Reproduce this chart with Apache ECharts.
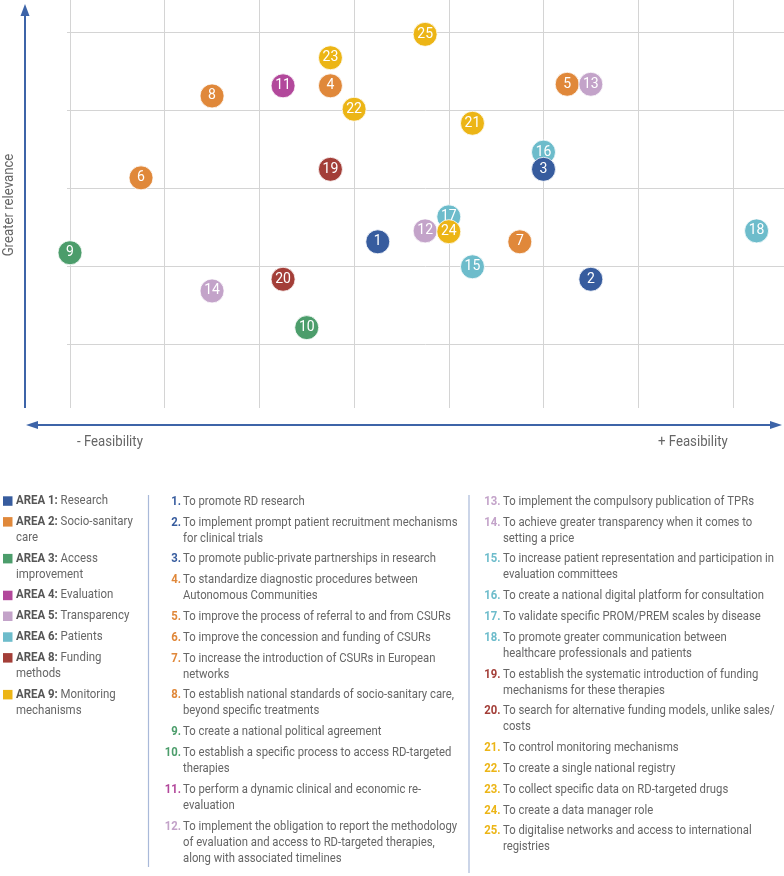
<!DOCTYPE html>
<html>
<head>
<meta charset="utf-8">
<script src="https://cdn.jsdelivr.net/npm/echarts@6/dist/echarts.min.js"></script>
<style>
html,body{margin:0;padding:0;background:#fff;}
#chart{width:784px;height:876px;}
</style>
</head>
<body>
<div id="chart"></div>
<script>
// ---- data ----
const areaNames = ['AREA 1:', 'AREA 2:', 'AREA 3:', 'AREA 4:', 'AREA 5:', 'AREA 6:', 'AREA 8:', 'AREA 9:'];
const areaLabels = ['Research', 'Socio-sanitary\ncare', 'Access\nimprovement', 'Evaluation', 'Transparency', 'Patients', 'Funding\nmethods', 'Monitoring\nmechanisms'];
const areaMeasures = [[1, 2, 3], [4, 5, 6, 7, 8], [9, 10], [11], [12, 13, 14], [15, 16, 17, 18], [19, 20], [21, 22, 23, 24, 25]];
// feasibility (x) and relevance (y) per measure 1..25
const feasibility = [3.25, 5.5, 5.0, 2.75, 5.25, 0.75, 4.75, 1.5, 0.0, 2.5, 2.25, 3.75, 5.5, 1.5, 4.25, 5.0, 4.0, 7.25, 2.75, 2.25, 4.25, 3.0, 2.75, 4.0, 3.75];
const relevance   = [1.31, 0.83, 2.24, 3.31, 3.33, 2.13, 1.31, 3.18, 1.17, 0.21, 3.31, 1.45, 3.33, 0.68, 0.99, 2.46, 1.63, 1.45, 2.24, 0.83, 2.83, 3.01, 3.67, 1.44, 3.97];
const measureTexts = [
  'To promote RD research',
  'To implement prompt patient recruitment mechanisms\nfor clinical trials',
  'To promote public-private partnerships in research',
  'To standardize diagnostic procedures between\nAutonomous Communities',
  'To improve the process of referral to and from CSURs',
  'To improve the concession and funding of CSURs',
  'To increase the introduction of CSURs in European\nnetworks',
  'To establish national standards of socio-sanitary care,\nbeyond specific treatments',
  'To create a national political agreement',
  'To establish a specific process to access RD-targeted\ntherapies',
  'To perform a dynamic clinical and economic re-\nevaluation',
  'To implement the obligation to report the methodology\nof evaluation and access to RD-targeted therapies,\nalong with associated timelines',
  'To implement the compulsory publication of TPRs',
  'To achieve greater transparency when it comes to\nsetting a price',
  'To increase patient representation and participation in\nevaluation committees',
  'To create a national digital platform for consultation',
  'To validate specific PROM/PREM scales by disease',
  'To promote greater communication between\nhealthcare professionals and patients',
  'To establish the systematic introduction of funding\nmechanisms for these therapies',
  'To search for alternative funding models, unlike sales/\ncosts',
  'To control monitoring mechanisms',
  'To create a single national registry',
  'To collect specific data on RD-targeted drugs',
  'To create a data manager role',
  'To digitalise networks and access to international\nregistries'
];
const xGridValues = [0, 1, 2, 3, 4, 5, 6, 7];
const yGridValues = [0, 1, 2, 3, 4];

// ---- styles ----
const areaColors = ['#375c9e', '#e0883a', '#4c9d6b', '#b2489b', '#c3a3c9', '#6dbccb', '#a33e38', '#ecb516'];
const FONT = 'Roboto, "Noto Sans", sans-serif';
const SX = 0.87;
const TEXT_GRAY = '#666666';

function areaOf(id) {
  for (let a = 0; a < areaMeasures.length; a++) if (areaMeasures[a].indexOf(id) >= 0) return a;
  return 0;
}

const series = [{
  type: 'scatter', data: [], z: 1, silent: true,
  markLine: {
    silent: true, symbol: ['none', 'none'], animation: false, z: 1,
    label: { show: false },
    lineStyle: { color: '#d4d4d4', width: 1, type: 'solid' },
    emphasis: { disabled: true },
    data: xGridValues.map(v => ({ xAxis: v })).concat(yGridValues.map(v => ({ yAxis: v })))
  }
}];
areaMeasures.forEach((ids, a) => {
  series.push({
    name: areaNames[a],
    type: 'scatter',
    z: a === 0 ? 11 : 10,
    symbolSize: 24,
    itemStyle: { color: areaColors[a], opacity: 1, borderColor: '#ffffff', borderWidth: 0.8 },
    label: {
      show: true, position: 'inside', color: '#ffffff',
      fontFamily: FONT, fontSize: 14,
      formatter: p => String(p.data[2])
    },
    data: ids.map(id => [feasibility[id - 1], relevance[id - 1], id])
  });
});

const graphic = [];
const AX = '#3d64a8';
// vertical arrow
graphic.push({ type: 'line', shape: { x1: 25, y1: 14, x2: 25, y2: 408 }, style: { stroke: AX, lineWidth: 2 } });
graphic.push({ type: 'polygon', shape: { points: [[25, 4], [20.5, 16], [29.5, 16]] }, style: { fill: AX } });
// horizontal double arrow
graphic.push({ type: 'line', shape: { x1: 36, y1: 425, x2: 772, y2: 425 }, style: { stroke: AX, lineWidth: 2 } });
graphic.push({ type: 'polygon', shape: { points: [[26, 425], [38, 421], [38, 429]] }, style: { fill: AX } });
graphic.push({ type: 'polygon', shape: { points: [[782, 425], [770, 421], [770, 429]] }, style: { fill: AX } });
// axis texts
graphic.push({ type: 'text', x: 77, y: 442, scaleX: 0.88, style: { text: '- Feasibility', fill: TEXT_GRAY, fontFamily: FONT, fontSize: 15, align: 'left', verticalAlign: 'middle' } });
graphic.push({ type: 'text', x: 658, y: 442, scaleX: 0.88, style: { text: '+ Feasibility', fill: TEXT_GRAY, fontFamily: FONT, fontSize: 15, align: 'left', verticalAlign: 'middle' } });
graphic.push({ type: 'text', x: 9, y: 205, rotation: Math.PI / 2, scaleX: 0.88, style: { text: 'Greater relevance', fill: TEXT_GRAY, fontFamily: FONT, fontSize: 15, align: 'center', verticalAlign: 'middle' } });

// separators
graphic.push({ type: 'line', shape: { x1: 148.5, y1: 495, x2: 148.5, y2: 867 }, style: { stroke: '#a9b9d9', lineWidth: 1.2 } });
graphic.push({ type: 'line', shape: { x1: 469, y1: 495, x2: 469, y2: 873 }, style: { stroke: '#a9b9d9', lineWidth: 1.2 } });

const LH = 16, GAP = 20.8;
// legend column
let cy = 500.8;
areaNames.forEach((nm, a) => {
  graphic.push({ type: 'rect', shape: { x: 3, y: cy - 4.5, width: 9.5, height: 9.5 }, style: { fill: areaColors[a] } });
  graphic.push({
    type: 'text', x: 16, y: cy - LH / 2, scaleX: 0.88,
    style: {
      text: '{b|' + nm + '} ' + areaLabels[a],
      fill: TEXT_GRAY, fontFamily: FONT, fontSize: 13, lineHeight: LH, align: 'left', verticalAlign: 'top',
      rich: { b: { fontWeight: 'bold', fill: '#555555', fontFamily: FONT, fontSize: 13, lineHeight: LH } }
    }
  });
  cy += LH * (areaLabels[a].split('\n').length - 1) + GAP;
});

function measureColumn(from, to, numRight, textLeft, startY) {
  let y = startY;
  for (let id = from; id <= to; id++) {
    const t = measureTexts[id - 1];
    graphic.push({
      type: 'text', x: numRight, y: y - LH / 2, scaleX: SX,
      style: { text: id + '.', fill: areaColors[areaOf(id)], fontFamily: FONT, fontSize: 13, fontWeight: 'bold', lineHeight: LH, align: 'right', verticalAlign: 'top' }
    });
    graphic.push({
      type: 'text', x: textLeft, y: y - LH / 2, scaleX: SX,
      style: { text: t, fill: TEXT_GRAY, fontFamily: FONT, fontSize: 13, lineHeight: LH, align: 'left', verticalAlign: 'top' }
    });
    y += LH * (t.split('\n').length - 1) + GAP;
  }
}
measureColumn(1, 12, 181, 183, 501.5);
measureColumn(13, 25, 500.5, 503, 501.5);

const chart = echarts.init(document.getElementById('chart'), null, { renderer: 'canvas' });
chart.setOption({
  animation: false,
  backgroundColor: '#ffffff',
  grid: { left: 67, right: 0, top: 0, bottom: 468 },
  xAxis: { type: 'value', min: -0.0317, max: 7.5396, show: false },
  yAxis: { type: 'value', min: -0.8205, max: 4.4103, show: false },
  series: series,
  graphic: graphic
});
</script>
</body>
</html>
